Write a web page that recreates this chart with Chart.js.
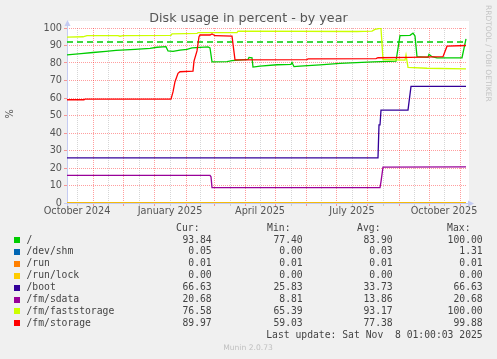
<!DOCTYPE html>
<html>
<head>
<meta charset="utf-8">
<title>Disk usage in percent - by year</title>
<script src="https://cdn.jsdelivr.net/npm/chart.js@4.4.1/dist/chart.umd.min.js"></script>
<style>
  html, body { margin: 0; padding: 0; background: #f0f0f0; }
  #wrap { position: relative; width: 497px; height: 359px; }
</style>
</head>
<body>
<div id="wrap"><canvas id="dfChart" width="497" height="359"></canvas></div>
<script>
// x values are days counted from the left edge of the graph (early Oct 2024)
const rootSeries = [[0,84.6],[14,85.3],[26,86.0],[39,86.7],[49,87.2],[68,87.8],[83,88.4],[90,89.0],[99,89.3],[101,86.9],[106,86.6],[113,87.4],[120,87.8],[125,88.6],[141,89.2],[143,88.6],[145,80.6],[160,80.8],[165,81.3],[181,82.0],[182,83.2],[185,83.0],[186,77.7],[193,78.2],[210,79.0],[224,79.2],[225,80.3],[227,77.9],[233,78.2],[253,78.9],[273,79.8],[306,80.6],[329,81.1],[333,95.6],[343,95.8],[346,97.0],[348,95.5],[350,83.6],[361,83.2],[362,85.0],[365,83.6],[370,82.9],[395,83.0],[399,93.8]];
const shmSeries = [[0,0.05],[399,0.05]];
const runSeries = [[0,0.01],[399,0.01]];
const runLockSeries = [[0,0],[399,0]];
const bootSeries = [[0,25.8],[311,25.8],[312,44.6],[313,44.6],[314,53.1],[341,53.1],[344,66.6],[399,66.6]];
const sdataSeries = [[0,15.8],[143,15.8],[144,15.0],[145,8.8],[313,8.8],[314,12.2],[316,20.5],[399,20.6]];
const fastSeries = [[0,94.8],[16,95.0],[20,95.7],[51,95.7],[53,95.3],[56,95.7],[104,95.8],[105,96.6],[130,96.9],[131,97.3],[170,97.4],[171,98.2],[290,98.0],[305,98.2],[308,99.2],[313,99.8],[314,99.8],[316,82.0],[338,81.7],[339,84.6],[341,77.5],[360,77.0],[399,76.6]];
const storageSeries = [[0,59.0],[17,59.0],[18,59.4],[104,59.4],[106,63.5],[108,69.3],[111,74.1],[113,75.0],[126,75.4],[127,81.1],[130,86.9],[132,95.0],[133,96.0],[143,96.0],[145,96.6],[148,95.6],[165,95.4],[168,81.8],[240,81.9],[241,82.4],[309,82.5],[311,83.0],[343,83.2],[376,83.6],[380,89.6],[399,90.0]];
const warningLevel = 92;
const warningDays = [0, 396];

const legendNames = ['/', '/dev/shm', '/run', '/run/lock', '/boot', '/fm/sdata', '/fm/faststorage', '/fm/storage'];
const seriesColors = ['#00CC00', '#0066B3', '#FF8000', '#FFCC00', '#330099', '#990099', '#CCFF00', '#FF0000'];
const curValues = [93.84, 0.05, 0.01, 0.00, 66.63, 20.68, 76.58, 89.97];
const minValues = [77.40, 0.00, 0.01, 0.00, 25.83, 8.81, 65.39, 59.03];
const avgValues = [83.90, 0.03, 0.01, 0.00, 33.73, 13.86, 93.17, 77.38];
const maxValues = [100.00, 1.31, 0.01, 0.00, 66.63, 20.68, 100.00, 99.88];

// axis ticks
const monthStarts = [26, 56, 87, 119, 147, 178, 208, 239, 269, 300, 332, 362, 393];
const midMonths = [10, 41, 72, 103, 133, 163, 193, 224, 254, 285, 316, 347, 377];
const xLabelDays = [10, 103, 193, 285, 377];
const xLabels = ['October 2024', 'January 2025', 'April 2025', 'July 2025', 'October 2025'];
const yTicks = [0, 5, 10, 15, 20, 25, 30, 35, 40, 45, 50, 55, 60, 65, 70, 75, 80, 85, 90, 95, 100];

const chartTitle = 'Disk usage in percent - by year';
const lastUpdate = 'Last update: Sat Nov  8 01:00:03 2025';

const MAJOR = 'rgba(255, 0, 0, 0.38)';
const MINOR = 'rgba(128, 128, 128, 0.32)';
const AXIS = '#c4cbf2';

const seriesData = [rootSeries, shmSeries, runSeries, runLockSeries, bootSeries, sdataSeries, fastSeries, storageSeries];

const datasets = legendNames.map((name, i) => ({
    label: name,
    data: seriesData[i].map(p => ({ x: p[0], y: p[1] })),
    borderColor: seriesColors[i],
    borderWidth: 1.3,
    pointRadius: 0,
    tension: 0,
    fill: false,
    order: legendNames.length - i
}));
datasets.push({
    label: 'warning',
    data: warningDays.map(d => ({ x: d, y: warningLevel })),
    borderColor: '#00CC00',
    borderWidth: 1.5,
    borderDash: [6, 4],
    pointRadius: 0,
    fill: false,
    order: 20
});

// background, axes with arrows, title and the munin legend table
const muninFrame = {
    id: 'muninFrame',
    beforeDraw(chart) {
        const { ctx, chartArea: a, width, height } = chart;
        ctx.save();
        ctx.fillStyle = '#f0f0f0';
        ctx.fillRect(0, 0, width, height);
        ctx.fillStyle = '#ffffff';
        ctx.fillRect(a.left, a.top - 7, a.right - a.left + 2, a.bottom - a.top + 7);
        ctx.restore();
    },
    beforeDatasetsDraw(chart) {
        const { ctx, chartArea: a } = chart;
        ctx.save();
        ctx.strokeStyle = AXIS;
        ctx.fillStyle = AXIS;
        ctx.lineWidth = 1;
        ctx.beginPath();
        ctx.moveTo(a.left + 0.5, a.bottom + 3);
        ctx.lineTo(a.left + 0.5, a.top - 4);
        ctx.moveTo(a.left - 3, a.bottom + 0.5);
        ctx.lineTo(a.right + 4, a.bottom + 0.5);
        ctx.stroke();
        ctx.beginPath();
        ctx.moveTo(a.left - 2.5, a.top - 2);
        ctx.lineTo(a.left + 3.5, a.top - 2);
        ctx.lineTo(a.left + 0.5, a.top - 8);
        ctx.closePath();
        ctx.fill();
        ctx.beginPath();
        ctx.moveTo(a.right + 1, a.bottom - 2.5);
        ctx.lineTo(a.right + 1, a.bottom + 3.5);
        ctx.lineTo(a.right + 7, a.bottom + 0.5);
        ctx.closePath();
        ctx.fill();
        ctx.restore();
    },
    afterDraw(chart) {
        const ctx = chart.ctx;
        ctx.save();
        ctx.textBaseline = 'middle';

        ctx.fillStyle = '#555555';
        ctx.font = '12.7px "DejaVu Sans"';
        ctx.textAlign = 'center';
        ctx.fillText(chartTitle, 248.5, 19);

        ctx.save();
        ctx.translate(10.5, 114);
        ctx.rotate(-Math.PI / 2);
        ctx.font = '9.7px "DejaVu Sans"';
        ctx.fillText('%', 0, 0);
        ctx.restore();

        ctx.save();
        ctx.translate(487.5, 5);
        ctx.rotate(Math.PI / 2);
        ctx.fillStyle = '#c4c4c4';
        ctx.font = '7.5px "DejaVu Sans"';
        ctx.textAlign = 'left';
        ctx.fillText('RRDTOOL / TOBI OETIKER', 0, 0);
        ctx.restore();

        // legend table
        ctx.font = '9.72px "DejaVu Sans Mono"';
        ctx.fillStyle = '#444444';
        ctx.textAlign = 'right';
        const headers = ['Cur:', 'Min:', 'Avg:', 'Max:'];
        const headerRight = [199.5, 290.5, 380.5, 470.5];
        const valueRight = [211.7, 302.7, 392.7, 482.7];
        headers.forEach((h, j) => ctx.fillText(h, headerRight[j], 228));

        const columns = [curValues, minValues, avgValues, maxValues];
        legendNames.forEach((name, i) => {
            const y = 240 + i * 11.9;
            ctx.fillStyle = seriesColors[i];
            ctx.fillRect(14, Math.round(y) - 3, 6, 6);
            ctx.fillStyle = '#444444';
            ctx.textAlign = 'left';
            ctx.fillText(name, 26.5, y);
            ctx.textAlign = 'right';
            columns.forEach((col, j) => ctx.fillText(col[i].toFixed(2), valueRight[j], y));
        });
        ctx.fillText(lastUpdate, 482.7, 335.7);

        ctx.fillStyle = '#c0c0c0';
        ctx.font = '7.6px "DejaVu Sans"';
        ctx.textAlign = 'center';
        ctx.fillText('Munin 2.0.73', 248, 348);
        ctx.restore();
    }
};

const xTickValues = monthStarts.concat(midMonths).sort((a, b) => a - b);

new Chart(document.getElementById('dfChart').getContext('2d'), {
    type: 'line',
    data: { datasets: datasets },
    options: {
        responsive: false,
        animation: false,
        events: [],
        layout: { padding: { left: 0, top: 28, right: 30, bottom: 136 } },
        plugins: {
            legend: { display: false },
            tooltip: { enabled: false },
            title: { display: false }
        },
        scales: {
            x: {
                type: 'linear',
                min: 0,
                max: 400,
                afterBuildTicks: s => { s.ticks = xTickValues.map(v => ({ value: v })); },
                afterFit: s => { s.height = 20; },
                border: { display: false, dash: [1, 1] },
                grid: {
                    color: c => c.tick ? (monthStarts.includes(c.tick.value) ? MAJOR : MINOR) : 'transparent',
                    lineWidth: 1,
                    tickLength: 3,
                    tickBorderDash: []
                },
                ticks: {
                    autoSkip: false,
                    maxRotation: 0,
                    padding: 0,
                    color: '#555555',
                    font: { family: 'DejaVu Sans', size: 9.72 },
                    callback: v => {
                        const k = xLabelDays.indexOf(v);
                        return k >= 0 ? xLabels[k] : '';
                    }
                }
            },
            y: {
                min: 0,
                max: 100,
                afterBuildTicks: s => { s.ticks = yTicks.map(v => ({ value: v })); },
                afterFit: s => { s.width = 67; },
                border: { display: false, dash: [1, 1] },
                grid: {
                    color: c => c.tick ? (c.tick.value % 10 === 0 ? MAJOR : MINOR) : 'transparent',
                    lineWidth: 1,
                    tickLength: 3,
                    tickBorderDash: []
                },
                ticks: {
                    padding: 2,
                    color: '#555555',
                    font: { family: 'DejaVu Sans', size: 9.72 },
                    callback: v => (v % 10 === 0 ? String(v) : '')
                }
            }
        }
    },
    plugins: [muninFrame]
});
</script>
</body>
</html>
